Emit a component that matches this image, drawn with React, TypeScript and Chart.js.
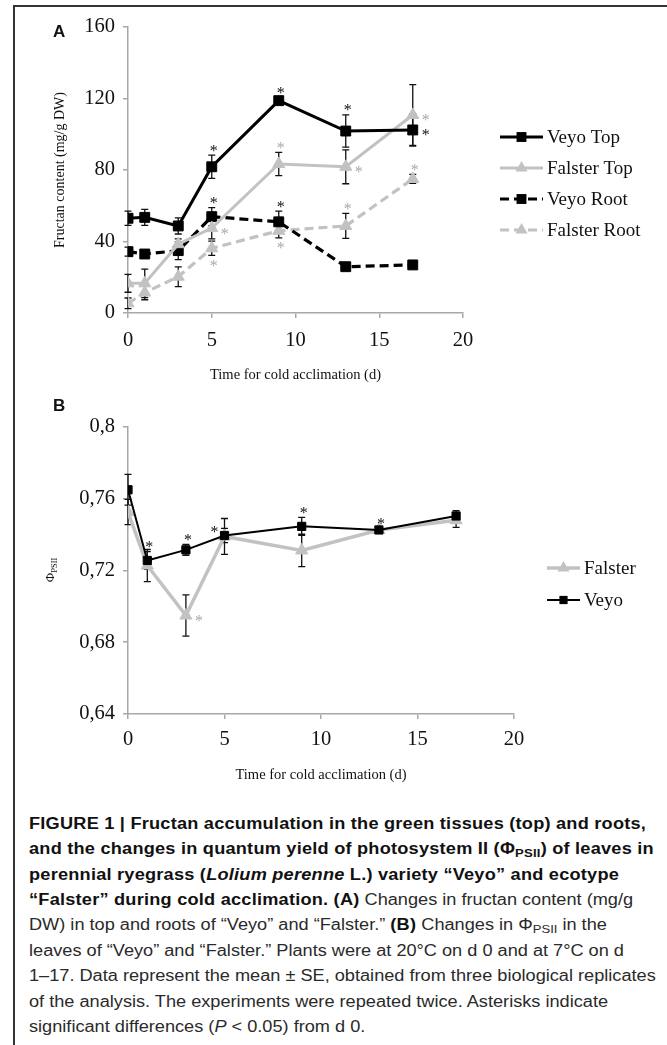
import React, { useEffect, useRef } from 'react';
import { Chart, registerables } from 'chart.js';

Chart.register(...registerables);

// ---------------- Data ----------------
const days = [0, 1, 3, 5, 9, 13, 17];

// Panel A – fructan content (mg/g DW)
const veyoTop = [53, 53.5, 48.7, 81.8, 118.8, 101.8, 102.4];
const veyoTopErr = [4, 4.5, 4.5, 6.5, 2, 9, 9];
const veyoTopSig = ['', '', '', 'top', 'top', 'top', 'right'];

const falsterTop = [16.6, 16.6, 38.5, 47.5, 83.4, 81.8, 110.8];
const falsterTopErr = [5, 8, 3, 6, 6.5, 9.5, 17];
const falsterTopSig = ['', '', '', 'right', 'top', 'right', 'right'];

const veyoRoot = [34.3, 33, 34.9, 53.9, 51, 25.9, 26.9];
const veyoRootErr = [2.5, 1.5, 5, 5, 6, 1, 1.5];
const veyoRootSig = ['', '', '', 'top', 'top', '', ''];

const falsterRoot = [5.4, 11.4, 20.3, 36.2, 46, 48.7, 75];
const falsterRootErr = [3, 4, 5.5, 4, 4, 7, 2.5];
const falsterRootSig = ['', '', '', 'bottom', 'bottom', 'top', 'top'];

const fructanTicks = [0, 40, 80, 120, 160];
const dayTicks = [0, 5, 10, 15, 20];

// Panel B – quantum yield of PSII
const falsterPhi = [0.7526, 0.7228, 0.6949, 0.739, 0.7312, 0.7426, 0.748];
const falsterPhiErr = [0.007, 0.009, 0.0115, 0.01, 0.009, 0.001, 0.004];
const falsterPhiSig = ['', '', 'right', '', '', '', ''];

const veyoPhi = [0.765, 0.7256, 0.7315, 0.7395, 0.7446, 0.7426, 0.7504];
const veyoPhiErr = [0.0086, 0.005, 0.003, 0.004, 0.005, 0.001, 0.003];
const veyoPhiSig = ['', 'top', 'top', 'left', 'top', 'top', ''];

const phiTicks = [0.64, 0.68, 0.72, 0.76, 0.8];
const phiTickLabels = ['0,64', '0,68', '0,72', '0,76', '0,8'];

// ---------------- Styling constants ----------------
const BLACK = '#000000';
const GREY = '#c2c2c2';
const GREY_STAR = '#a9a9a9';
const AXIS = '#a8a8a8';
const SERIF = '"Liberation Serif", "Times New Roman", serif';
const TICK_SIZE = 20.5;

const pts = (vals: number[]) => days.map((d, i) => ({ x: d, y: vals[i] }));

function drawMarker(ctx: CanvasRenderingContext2D, style: string, x: number, y: number, r: number, color: string) {
  ctx.fillStyle = color;
  ctx.beginPath();
  if (style === 'rect') {
    const s = r * Math.SQRT1_2;
    ctx.rect(x - s, y - s, 2 * s, 2 * s);
  } else {
    ctx.moveTo(x, y - r);
    ctx.lineTo(x + 0.866 * r, y + 0.5 * r);
    ctx.lineTo(x - 0.866 * r, y + 0.5 * r);
    ctx.closePath();
  }
  ctx.fill();
}

const errorBarPlugin = {
  id: 'errorBars',
  beforeDatasetsDraw(chart: any) {
    const { ctx } = chart;
    const ys = chart.scales.y;
    chart.data.datasets.forEach((ds: any, i: number) => {
      const errs: number[] = ds.errorBars;
      if (!errs) return;
      const meta = chart.getDatasetMeta(i);
      ctx.save();
      ctx.strokeStyle = '#111';
      ctx.lineWidth = 1.3;
      meta.data.forEach((pt: any, j: number) => {
        const v = ds.data[j].y;
        const e = errs[j];
        if (!e) return;
        const yt = ys.getPixelForValue(v + e);
        const yb = ys.getPixelForValue(v - e);
        ctx.beginPath();
        ctx.moveTo(pt.x, yt);
        ctx.lineTo(pt.x, yb);
        ctx.moveTo(pt.x - 3.5, yt);
        ctx.lineTo(pt.x + 3.5, yt);
        ctx.moveTo(pt.x - 3.5, yb);
        ctx.lineTo(pt.x + 3.5, yb);
        ctx.stroke();
      });
      ctx.restore();
    });
  },
  afterDatasetsDraw(chart: any) {
    const { ctx } = chart;
    const ys = chart.scales.y;
    chart.data.datasets.forEach((ds: any, i: number) => {
      const sig: string[] = ds.significance;
      if (!sig) return;
      const meta = chart.getDatasetMeta(i);
      ctx.save();
      ctx.fillStyle = ds.starColor;
      ctx.font = '16px ' + SERIF;
      ctx.textAlign = 'center';
      ctx.textBaseline = 'alphabetic';
      meta.data.forEach((pt: any, j: number) => {
        const where = sig[j];
        if (!where) return;
        const v = ds.data[j].y;
        const e = ds.errorBars ? ds.errorBars[j] : 0;
        let cx = pt.x;
        let cy = pt.y;
        if (where === 'top') { cx = pt.x + 2; cy = ys.getPixelForValue(v + e) - 7; }
        else if (where === 'bottom') { cx = pt.x + 2; cy = ys.getPixelForValue(v - e) + 8; }
        else if (where === 'right') { cx = pt.x + 13; cy = pt.y + 3; }
        else if (where === 'left') { cx = pt.x - 10; cy = pt.y - 6; }
        ctx.fillText('*', cx, cy + 7.5);
      });
      ctx.restore();
    });
  },
};

const legendPlugin = {
  id: 'sketchLegend',
  afterDraw(chart: any, _args: any, opts: any) {
    const { ctx } = chart;
    ctx.save();
    chart.data.datasets.forEach((ds: any, i: number) => {
      const y = opts.y + i * opts.gap;
      const x0 = opts.x;
      const x1 = opts.x + opts.lineLen;
      ctx.strokeStyle = ds.borderColor;
      ctx.lineWidth = ds.borderWidth;
      ctx.setLineDash(ds.borderDash || []);
      ctx.beginPath();
      ctx.moveTo(x0, y);
      ctx.lineTo(x1, y);
      ctx.stroke();
      ctx.setLineDash([]);
      drawMarker(ctx, ds.pointStyle, (x0 + x1) / 2, y, ds.pointRadius, ds.pointBackgroundColor);
      ctx.fillStyle = '#111';
      ctx.font = opts.font;
      ctx.textAlign = 'left';
      ctx.textBaseline = 'middle';
      ctx.fillText(ds.label, x1 + 4, y + 1);
    });
    ctx.restore();
  },
};

const phiTitlePlugin = {
  id: 'phiTitle',
  afterDraw(chart: any, _args: any, opts: any) {
    if (!opts || !opts.display) return;
    const { ctx } = chart;
    ctx.save();
    ctx.translate(opts.x, opts.y);
    ctx.rotate(-Math.PI / 2);
    ctx.fillStyle = '#111';
    ctx.textBaseline = 'alphabetic';
    ctx.textAlign = 'left';
    const big = '13px ' + SERIF;
    const small = '8.5px ' + SERIF;
    ctx.font = big;
    const w1 = ctx.measureText('Φ').width;
    ctx.font = small;
    const w2 = ctx.measureText('PSII').width;
    const start = -(w1 + w2) / 2;
    ctx.font = big;
    ctx.fillText('Φ', start, 4);
    ctx.font = small;
    ctx.fillText('PSII', start + w1, 7);
    ctx.restore();
  },
};

function axisX(title: string, pad: number) {
  return {
    type: 'linear' as const,
    min: dayTicks[0],
    max: dayTicks[dayTicks.length - 1],
    afterBuildTicks: (s: any) => { s.ticks = dayTicks.map((v) => ({ value: v })); },
    ticks: { color: '#111', font: { family: SERIF, size: TICK_SIZE }, padding: pad, autoSkip: false, maxRotation: 0 },
    grid: { drawOnChartArea: false, drawTicks: true, tickLength: 5, color: AXIS, lineWidth: 1.5 },
    border: { color: AXIS, width: 1.5 },
    title: { display: true, text: title, color: '#111', font: { family: SERIF, size: 14.5 }, padding: { top: 0, bottom: 6.3 } },
  };
}

function configA(): any {
  return {
    type: 'line',
    data: {
      datasets: [
        {
          label: 'Veyo Top', data: pts(veyoTop), errorBars: veyoTopErr, significance: veyoTopSig, starColor: '#111',
          borderColor: BLACK, backgroundColor: BLACK, borderWidth: 3, pointStyle: 'rect', pointRadius: 7,
          pointBackgroundColor: BLACK, pointBorderColor: BLACK, pointBorderWidth: 1,
        },
        {
          label: 'Falster Top', data: pts(falsterTop), errorBars: falsterTopErr, significance: falsterTopSig, starColor: GREY_STAR,
          borderColor: GREY, backgroundColor: GREY, borderWidth: 3, pointStyle: 'triangle', pointRadius: 7,
          pointBackgroundColor: GREY, pointBorderColor: GREY, pointBorderWidth: 1,
        },
        {
          label: 'Veyo Root', data: pts(veyoRoot), errorBars: veyoRootErr, significance: veyoRootSig, starColor: '#111',
          borderColor: BLACK, backgroundColor: BLACK, borderWidth: 3.2, borderDash: [9, 5], pointStyle: 'rect', pointRadius: 7,
          pointBackgroundColor: BLACK, pointBorderColor: BLACK, pointBorderWidth: 1,
        },
        {
          label: 'Falster Root', data: pts(falsterRoot), errorBars: falsterRootErr, significance: falsterRootSig, starColor: GREY_STAR,
          borderColor: GREY, backgroundColor: GREY, borderWidth: 3.2, borderDash: [9, 5], pointStyle: 'triangle', pointRadius: 7,
          pointBackgroundColor: GREY, pointBorderColor: GREY, pointBorderWidth: 1,
        },
      ],
    },
    options: {
      animation: false,
      responsive: false,
      maintainAspectRatio: false,
      devicePixelRatio: 1,
      layout: { padding: { top: 27, right: 204, left: 0, bottom: 0 } },
      plugins: {
        legend: { display: false },
        tooltip: { enabled: false },
        sketchLegend: { x: 500, y: 137, gap: 31, lineLen: 43, font: '19px ' + SERIF },
      },
      scales: {
        x: { ...axisX('Time for cold acclimation (d)', 10.5), afterFit: (s: any) => { s.height = 77; } },
        y: {
          type: 'linear',
          min: fructanTicks[0],
          max: fructanTicks[fructanTicks.length - 1],
          afterBuildTicks: (s: any) => { s.ticks = fructanTicks.map((v) => ({ value: v })); },
          afterFit: (s: any) => { s.width = 128; },
          ticks: { color: '#111', font: { family: SERIF, size: TICK_SIZE }, padding: 8 },
          grid: { drawOnChartArea: false, drawTicks: true, tickLength: 5, color: AXIS, lineWidth: 1.5 },
          border: { color: AXIS, width: 1.5 },
          title: { display: true, text: 'Fructan content (mg/g DW)', color: '#111', font: { family: SERIF, size: 14 }, padding: { top: 52, bottom: 0 } },
        },
      },
    },
    plugins: [errorBarPlugin, legendPlugin],
  };
}

function configB(): any {
  return {
    type: 'line',
    data: {
      datasets: [
        {
          label: 'Falster', data: pts(falsterPhi), errorBars: falsterPhiErr, significance: falsterPhiSig, starColor: GREY_STAR,
          borderColor: GREY, backgroundColor: GREY, borderWidth: 3.5, pointStyle: 'triangle', pointRadius: 7,
          pointBackgroundColor: GREY, pointBorderColor: GREY, pointBorderWidth: 1, order: 1,
        },
        {
          label: 'Veyo', data: pts(veyoPhi), errorBars: veyoPhiErr, significance: veyoPhiSig, starColor: '#111',
          borderColor: BLACK, backgroundColor: BLACK, borderWidth: 2, pointStyle: 'rect', pointRadius: 5.8,
          pointBackgroundColor: BLACK, pointBorderColor: BLACK, pointBorderWidth: 1, order: 0,
        },
      ],
    },
    options: {
      animation: false,
      responsive: false,
      maintainAspectRatio: false,
      devicePixelRatio: 1,
      layout: { padding: { top: 37, right: 153, left: 0, bottom: 0 } },
      plugins: {
        legend: { display: false },
        tooltip: { enabled: false },
        sketchLegend: { x: 547, y: 178, gap: 32, lineLen: 33, font: '19px ' + SERIF },
        phiTitle: { display: true, x: 50, y: 180 },
      },
      scales: {
        x: { ...axisX('Time for cold acclimation (d)', 8.5), afterFit: (s: any) => { s.height = 76; } },
        y: {
          type: 'linear',
          min: phiTicks[0],
          max: phiTicks[phiTicks.length - 1],
          afterBuildTicks: (s: any) => { s.ticks = phiTicks.map((v) => ({ value: v })); },
          afterFit: (s: any) => { s.width = 128; },
          ticks: {
            color: '#111', font: { family: SERIF, size: TICK_SIZE }, padding: 8,
            callback: (_v: any, idx: number) => phiTickLabels[idx],
          },
          grid: { drawOnChartArea: false, drawTicks: true, tickLength: 5, color: AXIS, lineWidth: 1.5 },
          border: { color: AXIS, width: 1.5 },
          title: { display: false },
        },
      },
    },
    plugins: [errorBarPlugin, legendPlugin, phiTitlePlugin],
  };
}

const sub: React.CSSProperties = { fontSize: '0.72em', verticalAlign: '-0.28em', lineHeight: 0 };
const boldLine: React.CSSProperties = { fontWeight: 'bold', color: '#111', letterSpacing: '0.2px' };
const boldSpan: React.CSSProperties = { fontWeight: 'bold', color: '#111', letterSpacing: '0.2px' };

export default function App() {
  const refA = useRef<HTMLCanvasElement>(null);
  const refB = useRef<HTMLCanvasElement>(null);

  useEffect(() => {
    const a = new Chart(refA.current as HTMLCanvasElement, configA());
    const b = new Chart(refB.current as HTMLCanvasElement, configB());
    return () => { a.destroy(); b.destroy(); };
  }, []);

  const panelLabel: React.CSSProperties = {
    position: 'absolute', left: 53, fontFamily: '"Liberation Sans", Arial, sans-serif', fontWeight: 'bold',
    fontSize: 17, lineHeight: '20px', color: '#111',
  };

  return (
    <div style={{ position: 'absolute', left: 0, top: 0, width: 667, height: 1045, overflow: 'hidden', background: '#fff' }}>
      <div style={{ position: 'absolute', left: 13, top: 5, width: 720, height: 1100, borderLeft: '2px solid #333', borderTop: '2px solid #333' }} />
      <canvas ref={refA} width={667} height={390} style={{ position: 'absolute', left: 0, top: 0, width: 667, height: 390 }} />
      <canvas ref={refB} width={667} height={400} style={{ position: 'absolute', left: 0, top: 390, width: 667, height: 400 }} />
      <div style={{ ...panelLabel, top: 21.5 }}>A</div>
      <div style={{ ...panelLabel, top: 395.5 }}>B</div>
      <div
        style={{
          position: 'absolute', left: 29, top: 810.7, fontFamily: '"Liberation Sans", Arial, sans-serif',
          fontSize: 16, lineHeight: '25.4px', color: '#2a2a2a', whiteSpace: 'nowrap',
          transform: 'scaleX(1.135)', transformOrigin: 'left top',
        }}
      >
        <div style={boldLine}>FIGURE 1 | Fructan accumulation in the green tissues (top) and roots,</div>
        <div style={boldLine}>and the changes in quantum yield of photosystem II (Φ<span style={sub}>PSII</span>) of leaves in</div>
        <div style={boldLine}>perennial ryegrass (<i>Lolium perenne</i> L.) variety “Veyo” and ecotype</div>
        <div><span style={boldSpan}>“Falster” during cold acclimation. (A)</span> Changes in fructan content (mg/g</div>
        <div>DW) in top and roots of “Veyo” and “Falster.” <span style={boldSpan}>(B)</span> Changes in Φ<span style={sub}>PSII</span> in the</div>
        <div>leaves of “Veyo” and “Falster.” Plants were at 20°C on d 0 and at 7°C on d</div>
        <div>1–17. Data represent the mean ± SE, obtained from three biological replicates</div>
        <div>of the analysis. The experiments were repeated twice. Asterisks indicate</div>
        <div>significant differences (<i>P</i> &lt; 0.05) from d 0.</div>
      </div>
    </div>
  );
}
